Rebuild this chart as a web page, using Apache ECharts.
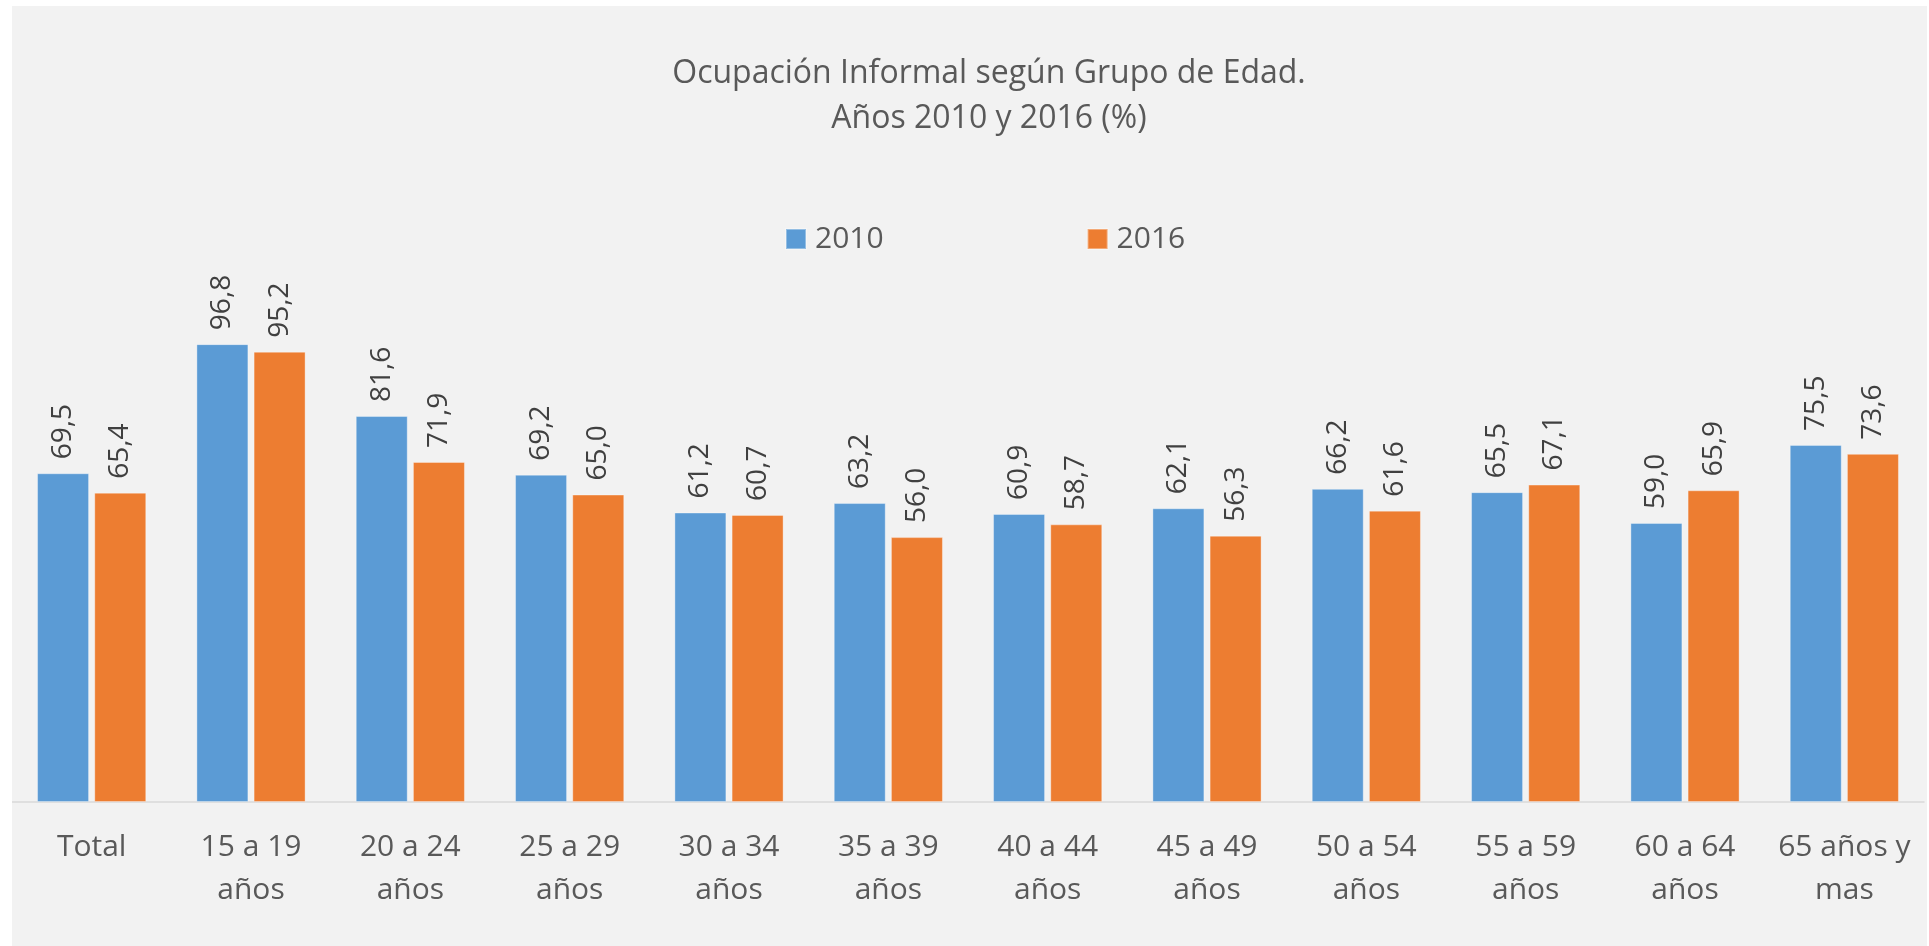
<!DOCTYPE html>
<html>
<head>
<meta charset="utf-8">
<title>Ocupación Informal según Grupo de Edad</title>
<script src="https://cdn.jsdelivr.net/npm/echarts@6/dist/echarts.min.js"></script>
<style>
  html, body { margin: 0; padding: 0; background: #ffffff; }
  #chart { position: absolute; left: 12px; top: 6px; width: 1915px; height: 940px; background: #f2f2f2; }
</style>
</head>
<body>
<div id="chart"></div>
<script>
  // categorias del eje x
  var categories = ['Total', '15 a 19\naños', '20 a 24\naños', '25 a 29\naños', '30 a 34\naños',
    '35 a 39\naños', '40 a 44\naños', '45 a 49\naños', '50 a 54\naños', '55 a 59\naños',
    '60 a 64\naños', '65 años y\nmas'];
  var seriesNames = ['2010', '2016'];
  var values2010 = [69.5, 96.8, 81.6, 69.2, 61.2, 63.2, 60.9, 62.1, 66.2, 65.5, 59.0, 75.5];
  var values2016 = [65.4, 95.2, 71.9, 65.0, 60.7, 56.0, 58.7, 56.3, 61.6, 67.1, 65.9, 73.6];

  var font = '"Open Sans", "Noto Sans", sans-serif';
  var textColor = '#595959';

  function labelFmt(p) {
    return p.value.toFixed(1).replace('.', ',');
  }

  function barLabel() {
    return {
      show: true,
      position: 'top',
      rotate: 90,
      align: 'left',
      verticalAlign: 'middle',
      distance: 14,
      formatter: labelFmt,
      color: '#404040',
      fontFamily: font,
      fontSize: 28
    };
  }

  var chart = echarts.init(document.getElementById('chart'));

  chart.setOption({
    animation: false,
    backgroundColor: '#f2f2f2',
    title: {
      text: 'Ocupación Informal según Grupo de Edad.\nAños 2010 y 2016 (%)',
      left: 972,
      top: 40,
      textAlign: 'center',
      textStyle: {
        color: textColor,
        fontFamily: font,
        fontWeight: 'normal',
        fontSize: 32,
        lineHeight: 45
      }
    },
    legend: {
      data: seriesNames,
      left: 768,
      top: 213,
      itemWidth: 20,
      itemHeight: 20,
      itemGap: 203,
      icon: 'rect',
      textStyle: {
        color: textColor,
        fontFamily: font,
        fontSize: 30,
        padding: [0, 0, 0, 4]
      }
    },
    grid: {
      left: 0,
      right: 3,
      top: 323,
      bottom: 144,
      containLabel: false
    },
    xAxis: {
      type: 'category',
      data: categories,
      axisLine: { lineStyle: { color: '#d9d9d9', width: 1.5 } },
      axisTick: { show: false },
      axisLabel: {
        interval: 0,
        margin: 24,
        color: textColor,
        fontFamily: font,
        fontSize: 30,
        lineHeight: 43
      }
    },
    yAxis: {
      type: 'value',
      min: 0,
      max: 100,
      show: false,
      splitLine: { show: false }
    },
    series: [
      {
        name: seriesNames[0],
        type: 'bar',
        data: values2010,
        barWidth: 52,
        barGap: '10%',
        itemStyle: { color: '#5b9bd5', borderColor: 'rgba(255,255,255,0.35)', borderWidth: 1 },
        label: barLabel()
      },
      {
        name: seriesNames[1],
        type: 'bar',
        data: values2016,
        barWidth: 52,
        barGap: '10%',
        itemStyle: { color: '#ed7d31', borderColor: 'rgba(255,255,255,0.35)', borderWidth: 1 },
        label: barLabel()
      }
    ]
  });
</script>
</body>
</html>
